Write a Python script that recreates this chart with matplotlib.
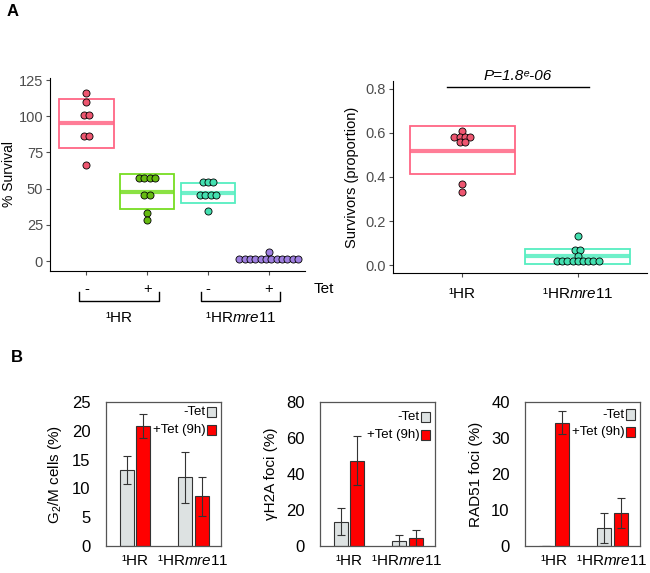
import numpy as np
import matplotlib
matplotlib.use("Agg")
import matplotlib.pyplot as plt
from matplotlib.patches import Rectangle

plt.rcParams['font.family'] = ['Liberation Sans', 'DejaVu Sans']
plt.rcParams['mathtext.fontset'] = 'custom'
plt.rcParams['mathtext.rm'] = 'Liberation Sans'
plt.rcParams['mathtext.it'] = 'Liberation Sans:italic'

# ---- panel A left: % survival ----
surv_ticks = ['-', '+', '-', '+']
surv_points = [
    [116, 110, 101, 101, 86, 86, 66],
    [57, 57, 57, 57, 45.5, 45.5, 33.5, 28],
    [54.5, 54.5, 54.5, 45.5, 45.5, 45.5, 45.5, 34.5],
    [6] + [1.5] * 12,
]
surv_box = [(78, 95, 112), (36, 48, 60), (40, 47, 54), (1, 1.5, 2)]  # low, median, high
surv_colors = ['#EE5670', '#66BB11', '#44E0B0', '#9F7FE0']
surv_edge = ['#FF6685', '#77DD22', '#55EEC0', '#9F7FE0']

# ---- panel A right: survivors proportion ----
prop_labels = ['¹HR', '¹HR$\\mathit{mre11}$']
prop_points = [
    [0.61, 0.58, 0.58, 0.58, 0.58, 0.56, 0.56, 0.37, 0.33],
    [0.13, 0.07, 0.07, 0.04] + [0.02] * 9,
]
prop_box = [(0.415, 0.52, 0.63), (0.005, 0.04, 0.075)]
prop_colors = ['#EE5670', '#44E0B0']
prop_edge = ['#FF6685', '#55EEC0']

# ---- panel B ----
strains = ['¹HR', '¹HR$\\mathit{mre11}$']
b_ylabels = ['G$_2$/M cells (%)', 'γH2A foci (%)', 'RAD51 foci (%)']
b_ylims = [25, 80, 40]
b_yticks = [[0, 5, 10, 15, 20, 25], [0, 20, 40, 60, 80], [0, 10, 20, 30, 40]]
minus_tet = [[13.2, 11.9], [13.5, 3.0], [0, 5.0]]
minus_err = [[2.5, 4.5], [7.5, 3.0], [0, 4.3]]
plus_tet = [[20.9, 8.6], [47.5, 4.5], [34.2, 9.1]]
plus_err = [[2.1, 3.4], [13.5, 4.5], [3.2, 4.2]]
legend_y = [(0.93, 0.805), (0.895, 0.77), (0.913, 0.79)]


def dot_offsets(vals, step):
    vals = np.asarray(vals, dtype=float)
    off = np.zeros(len(vals))
    for v in np.unique(vals):
        idx = np.where(vals == v)[0]
        off[idx] = (np.arange(len(idx)) - (len(idx) - 1) / 2) * step
    return off


def crossbar(ax, x, box, edge, width):
    lo, med, hi = box
    ax.add_patch(Rectangle((x - width / 2, lo), width, hi - lo, fill=False,
                           edgecolor=edge, lw=1.3, zorder=2))
    ax.plot([x - width / 2, x + width / 2], [med, med], color=edge, lw=3,
            alpha=0.85, solid_capstyle='butt', zorder=2)


W, H = 650, 573
fig = plt.figure(figsize=(W / 100, H / 100), dpi=100)


def px_axes(left, top, right, bottom):
    return fig.add_axes([left / W, 1 - bottom / H, (right - left) / W, (bottom - top) / H])


# A left
ax = px_axes(50, 78, 305, 271)
for i, (pts, box) in enumerate(zip(surv_points, surv_box)):
    x = i + 1
    crossbar(ax, x, box, surv_edge[i], 0.9)
    ax.scatter(x + dot_offsets(pts, 0.088), pts, s=26, color=surv_colors[i],
               edgecolor='black', lw=0.6, zorder=3)
ax.set_xlim(0.4, 4.6)
ax.set_ylim(-6.9, 126.4)
ax.set_yticks([0, 25, 50, 75, 100, 125])
ax.set_xticks([1, 2, 3, 4])
ax.set_xticklabels(surv_ticks)
ax.set_ylabel('% Survival', fontsize=10)
ax.yaxis.set_label_coords(-0.133, 0.5)
for s in ['top', 'right']:
    ax.spines[s].set_visible(False)
ax.tick_params(labelsize=10.5, colors='#4D4D4D', length=3, pad=2)
ax.tick_params(axis='x', pad=5, labelcolor='black')
trans = ax.get_xaxis_transform()
for (x0, x1), lab in zip([(0.88, 2.19), (2.88, 4.19)], ['¹HR', '¹HR$\\mathit{mre11}$']):
    ax.plot([x0, x0, x1, x1], [-0.11, -0.155, -0.155, -0.11], color='black',
            lw=1, transform=trans, clip_on=False)
    ax.text((x0 + x1) / 2, -0.245, lab, transform=trans, ha='center',
            va='center', fontsize=11)
ax.text(4.74, -0.093, 'Tet', transform=trans, ha='left', va='center', fontsize=11)

# A right
ax = px_axes(393, 81, 647, 273)
for i, (pts, box) in enumerate(zip(prop_points, prop_box)):
    x = i + 1
    crossbar(ax, x, box, prop_edge[i], 0.91)
    ax.scatter(x + dot_offsets(pts, 0.045), pts, s=26, color=prop_colors[i],
               edgecolor='black', lw=0.6, zorder=3)
ax.set_xlim(0.4, 2.6)
ax.set_ylim(-0.036, 0.836)
ax.set_yticks([0, 0.2, 0.4, 0.6, 0.8])
ax.set_yticklabels(['0.0', '0.2', '0.4', '0.6', '0.8'])
ax.set_xticks([1, 2])
ax.set_xticklabels(prop_labels)
ax.set_ylabel('Survivors (proportion)', fontsize=10.5)
ax.yaxis.set_label_coords(-0.134, 0.5)
for s in ['top', 'right']:
    ax.spines[s].set_visible(False)
ax.tick_params(labelsize=10.5, colors='#4D4D4D', length=3, pad=2)
ax.tick_params(axis='x', labelsize=11, labelcolor='black', pad=7)
ax.plot([0.87, 2.1], [0.81, 0.81], color='black', lw=1, clip_on=False)
ax.text(1.48, 0.825, 'P=1.8ᵉ-06', ha='center', va='bottom', fontsize=11,
        style='italic', family=['Liberation Sans', 'DejaVu Sans'])

# B panels
b_lefts = [106, 320, 525]
for k in range(3):
    ax = px_axes(b_lefts[k], 402, b_lefts[k] + 115, 546)
    xs = np.arange(len(strains))
    ax.bar(xs - 0.145, minus_tet[k], 0.24, yerr=minus_err[k], color='#DDE2E2',
           edgecolor='#333333', lw=0.8, capsize=3,
           error_kw=dict(elinewidth=0.8, ecolor='#333333', capthick=0.8))
    ax.bar(xs + 0.145, plus_tet[k], 0.24, yerr=plus_err[k], color='#FF0000',
           edgecolor='#333333', lw=0.8, capsize=3,
           error_kw=dict(elinewidth=0.8, ecolor='#333333', capthick=0.8))
    ax.set_xlim(-0.5, 1.48)
    ax.set_ylim(0, b_ylims[k])
    ax.set_yticks(b_yticks[k])
    ax.set_xticks(xs)
    ax.set_xticklabels(strains)
    ax.tick_params(length=0, labelsize=12, pad=11)
    ax.tick_params(axis='x', labelsize=11, pad=6)
    for s in ax.spines.values():
        s.set_color('#555555')
        s.set_linewidth(0.9)
    ax.set_ylabel(b_ylabels[k], fontsize=11)
    ax.yaxis.set_label_coords(-0.365, 0.5)
    for (lab, col), yy in zip([('-Tet', '#DDE2E2'), ('+Tet (9h)', '#FF0000')], legend_y[k]):
        ax.add_patch(Rectangle((0.875, yy - 0.035), 0.085, 0.07, transform=ax.transAxes,
                               facecolor=col, edgecolor='#333333', lw=0.8))
        ax.text(0.865, yy, lab, transform=ax.transAxes, ha='right', va='center',
                fontsize=9.5)

fig.text(7 / W, 1 - 11 / H, 'A', fontsize=12, fontweight='bold', va='center')
fig.text(11 / W, 1 - 358 / H, 'B', fontsize=12, fontweight='bold', va='center')

fig.savefig('out.png', dpi=100)
